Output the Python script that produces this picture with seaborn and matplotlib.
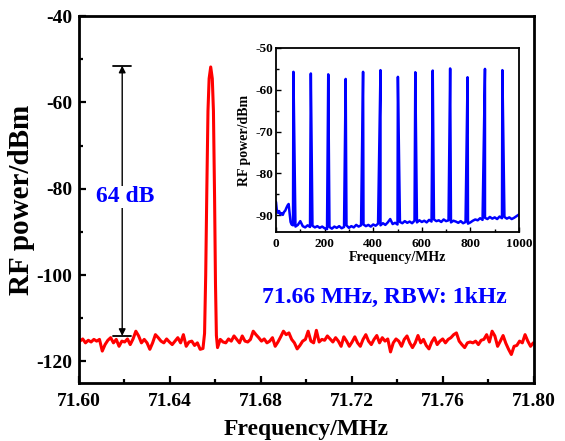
import numpy as np
import pandas as pd
import matplotlib
matplotlib.use("Agg")
import matplotlib.pyplot as plt
from matplotlib.ticker import MultipleLocator, FormatStrFormatter
import seaborn as sns

# ---------------- main spectrum (RBW 1 kHz) ----------------
main_left_start, main_left_end = 71.6004, 71.6545
main_left_dbm = [-115.3, -114.8, -115.7, -115.1, -115.5, -114.9, -115.3, -114.9, -117.6, -116.1,
                 -115.1, -114.5, -115.7, -114.9, -116.5, -115.3, -115.5, -114.8, -116.1, -114.8,
                 -113.0, -114.1, -115.7, -114.9, -115.7, -117.2, -115.7, -113.8, -114.5, -115.3,
                 -115.7, -114.8, -115.5, -116.1, -115.3, -114.5, -115.7, -113.8, -116.5, -115.5,
                 -115.3, -116.3, -115.7, -117.2, -117.0]
peak_freq = [71.6552, 71.6557, 71.6562, 71.6567, 71.6572, 71.6579, 71.6586, 71.6591, 71.6596,
             71.6600, 71.6604]
peak_dbm = [-113.5, -100.0, -80.0, -62.0, -54.5, -51.8, -54.5, -62.0, -82.0, -102.0, -114.0]
main_right_start, main_right_end = 71.6609, 71.7997
main_right_dbm = [-116.8, -114.9, -115.5, -115.7, -114.8, -115.3, -114.1, -114.9, -115.7, -114.1,
                  -115.3, -115.5, -114.9, -113.0, -113.8, -114.5, -115.3, -114.8, -115.7, -115.3,
                  -114.5, -116.5, -115.5, -114.3, -113.0, -113.8, -113.4, -114.9, -115.7, -117.1,
                  -116.3, -115.3, -114.9, -113.0, -115.3, -115.7, -112.8, -115.5, -114.9, -115.1,
                  -114.1, -114.8, -115.5, -114.5, -115.3, -116.5, -114.3, -115.3, -116.5, -115.5,
                  -114.3, -115.7, -116.5, -114.9, -113.8, -115.3, -116.1, -114.9, -114.0, -115.7,
                  -114.5, -115.3, -114.8, -117.8, -115.7, -114.8, -115.3, -116.5, -114.9, -114.1,
                  -115.7, -116.8, -115.7, -114.0, -115.7, -114.9, -116.3, -117.1, -115.5, -114.5,
                  -116.1, -115.3, -114.8, -115.7, -114.9, -114.5, -113.8, -113.4, -115.3, -116.1,
                  -116.8, -115.7, -115.5, -115.7, -115.3, -116.1, -115.1, -114.9, -113.8, -115.5,
                  -113.0, -114.1, -116.5, -115.3, -114.0, -115.8, -117.2, -118.4, -116.5, -116.3,
                  -115.3, -115.7, -113.8, -115.3, -116.5, -115.7]

# ---------------- inset: wide span spectrum ----------------
inset_base_freq = [0, 3, 8, 13, 18, 23, 28, 33, 38, 43, 48, 52, 56, 60, 64] + list(range(70, 1001, 10))
inset_base_dbm = [-86.8, -88.6, -89.4, -89.0, -89.8, -89.5, -89.9, -89.2, -88.9, -88.2, -87.6, -87.3,
                  -89.5, -91.6, -92.2,
                  -92.4, -92.7, -92.3, -91.4, -92.6, -92.9, -92.4, -92.8, -92.5, -92.9,
                  -92.6, -93.0, -92.7, -93.1, -93.3, -92.8, -93.2, -92.7, -93.0, -92.6,
                  -93.1, -92.8, -92.4, -93.0, -92.6, -92.9, -92.3, -92.7, -92.4, -92.2,
                  -92.6, -92.3, -92.7, -92.2, -92.5, -92.0, -92.4, -91.9, -92.3, -91.7,
                  -90.9, -92.1, -91.8, -92.2, -91.6, -91.9, -91.4, -91.8, -91.5, -91.9,
                  -91.3, -91.7, -91.2, -91.6, -91.3, -91.7, -91.1, -91.5, -91.0, -91.4,
                  -91.2, -91.6, -91.0, -91.4, -91.2, -91.7, -91.3, -91.5, -91.8, -91.4,
                  -91.9, -91.6, -92.0, -91.7, -91.3, -91.0, -91.2, -90.7, -91.1, -90.6,
                  -90.9, -90.4, -90.8, -90.5, -90.9, -90.3, -90.7, -90.4, -90.8, -90.5,
                  -90.9, -90.6, -90.2, -89.8]
harm_freq = [71.66, 143.32, 214.98, 286.64, 358.30, 429.96, 501.62, 573.28, 644.94,
             716.60, 788.26, 859.92, 931.58]
harm_dbm = [-55.7, -56.1, -56.3, -57.4, -55.7, -55.3, -56.9, -55.8, -55.4, -54.9, -57.0, -55.0, -55.3]

# annotation values
arrow_x = 71.619
arrow_top, arrow_bottom = -51.5, -114.1
dyn_label = "64 dB"
info_label = "71.66 MHz, RBW: 1kHz"

# ---------------- build tables ----------------
main_freq = np.concatenate([np.linspace(main_left_start, main_left_end, len(main_left_dbm)),
                            peak_freq,
                            np.linspace(main_right_start, main_right_end, len(main_right_dbm))])
main_pow = np.concatenate([main_left_dbm, peak_dbm, main_right_dbm])
df_main = pd.DataFrame({"f": main_freq, "p": main_pow})

df_inset = pd.DataFrame({"f": inset_base_freq + harm_freq,
                         "p": inset_base_dbm + harm_dbm}).sort_values("f")

# ---------------- style ----------------
sns.set_style("ticks", {"axes.edgecolor": "black", "xtick.color": "black",
                        "ytick.color": "black", "text.color": "black",
                        "axes.labelcolor": "black"})
plt.rcParams["font.family"] = ["Liberation Serif", "DejaVu Serif"]
plt.rcParams["font.weight"] = "bold"
plt.rcParams["axes.labelweight"] = "bold"
plt.rcParams["axes.unicode_minus"] = False

fig = plt.figure(figsize=(5.65, 4.41), dpi=100)
ax = fig.add_axes([0.1398, 0.1315, 0.8053, 0.8322])

sns.lineplot(data=df_main, x="f", y="p", ax=ax, color="#ff0000", linewidth=2.2,
             sort=False, estimator=None)
ax.set_xlim(71.60, 71.80)
ax.set_ylim(-125, -40)
ax.xaxis.set_major_locator(MultipleLocator(0.04))
ax.xaxis.set_minor_locator(MultipleLocator(0.02))
ax.xaxis.set_major_formatter(FormatStrFormatter("%.2f"))
ax.yaxis.set_major_locator(MultipleLocator(20))
ax.yaxis.set_minor_locator(MultipleLocator(10))
ax.tick_params(which="both", direction="in", width=1.6, top=False, right=False)
ax.tick_params(which="major", length=5)
ax.tick_params(which="minor", length=3)
ax.tick_params(axis="x", labelsize=14, pad=7)
ax.tick_params(axis="y", labelsize=14, pad=5)
for lab in ax.get_xticklabels() + ax.get_yticklabels():
    lab.set_fontweight("bold")
for s in ax.spines.values():
    s.set_linewidth(2.0)
    s.set_color("black")
ax.set_xlabel("Frequency/MHz", fontsize=17, fontweight="bold", labelpad=7)
ax.set_ylabel("RF power/dBm", fontsize=21, fontweight="bold", labelpad=1)

# double arrow annotation
ax.annotate("", xy=(arrow_x, arrow_top), xytext=(arrow_x, arrow_bottom),
            arrowprops=dict(arrowstyle="<|-|>", color="black", lw=1.0,
                            mutation_scale=10, shrinkA=0, shrinkB=0))
ax.plot([arrow_x - 0.004, arrow_x + 0.004], [arrow_top, arrow_top], color="black", lw=1.3)
ax.plot([arrow_x - 0.004, arrow_x + 0.004], [arrow_bottom, arrow_bottom], color="black", lw=1.3)
ax.text(71.6202, -81.9, dyn_label, color="#0000ff", fontsize=17, fontweight="bold",
        ha="center", va="center",
        bbox=dict(facecolor="white", edgecolor="none", pad=0.5))
ax.text(71.7343, -105.2, info_label, color="#0000ff", fontsize=17, fontweight="bold",
        ha="center", va="center")

# ---------------- inset ----------------
axi = fig.add_axes([0.4885, 0.4739, 0.4301, 0.4173])
sns.lineplot(data=df_inset, x="f", y="p", ax=axi, color="#0000ff", linewidth=1.8,
             sort=False, estimator=None)
axi.set_xlim(0, 1000)
axi.set_ylim(-94, -50)
axi.xaxis.set_major_locator(MultipleLocator(200))
axi.xaxis.set_minor_locator(MultipleLocator(100))
axi.yaxis.set_major_locator(MultipleLocator(10))
axi.yaxis.set_minor_locator(MultipleLocator(5))
axi.tick_params(which="both", direction="in", width=1.0, top=False, right=False,
                labelsize=9.5)
axi.tick_params(which="major", length=3.5)
axi.tick_params(which="minor", length=2)
axi.tick_params(axis="x", pad=4)
axi.tick_params(axis="y", pad=2)
for lab in axi.get_xticklabels() + axi.get_yticklabels():
    lab.set_fontweight("bold")
for s in axi.spines.values():
    s.set_linewidth(1.3)
    s.set_color("black")
axi.set_xlabel("Frequency/MHz", fontsize=10, fontweight="bold", labelpad=1)
axi.set_ylabel("RF power/dBm", fontsize=10, fontweight="bold", labelpad=3)

fig.savefig("out.png", dpi=100)
